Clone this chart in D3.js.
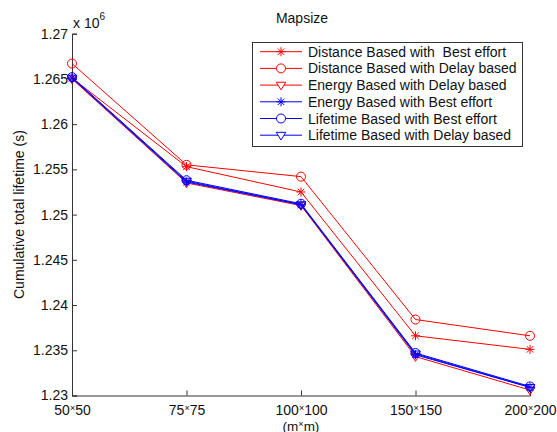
<!DOCTYPE html>
<html lang="en">
<head>
    <meta charset="UTF-8">
    <title>Mapsize</title>
    <script src="https://d3js.org/d3.v7.min.js"></script>
    <style>
        body { margin: 0; padding: 0; background: #fff; }
        svg { display: block; font-family: "Liberation Sans", Arial, sans-serif; }
        .legend text { white-space: pre; }
    </style>
</head>
<body>
    <svg id="chart" width="557" height="432"></svg>
    <script>
        // categories along x (split into parts so the "×" can be drawn small)
        const mapSizes = [["50", "50"], ["75", "75"], ["100", "100"], ["150", "150"], ["200", "200"]];
        const categories = mapSizes.map(d => d.join("×"));

        const yTicks = [1.23, 1.235, 1.24, 1.245, 1.25, 1.255, 1.26, 1.265, 1.27];
        const yTickLabels = ["1.23", "1.235", "1.24", "1.245", "1.25", "1.255", "1.26", "1.265", "1.27"];

        // values in units of 10^6 s
        const distBest   = [1.2651, 1.2553, 1.2525, 1.2366, 1.2351];
        const distDelay  = [1.2667, 1.2555, 1.2542, 1.2384, 1.2366];
        const energyDelay = [1.2650, 1.2535, 1.2510, 1.2343, 1.2306];
        const energyBest = [1.2651, 1.2536, 1.2511, 1.2345, 1.2309];
        const lifeBest   = [1.2652, 1.2538, 1.2512, 1.2347, 1.2310];
        const lifeDelay  = [1.2651, 1.2537, 1.2511, 1.2346, 1.2309];

        const seriesNames = [
            "Distance Based with  Best effort",
            "Distance Based with Delay based",
            "Energy Based with Delay based",
            "Energy Based with Best effort",
            "Lifetime Based with Best effort",
            "Lifetime Based with Delay based"
        ];
        const seriesValues = [distBest, distDelay, energyDelay, energyBest, lifeBest, lifeDelay];
        const seriesColors = ["#ff0000", "#ff0000", "#ff0000", "#0000ff", "#0000ff", "#0000ff"];
        const seriesMarkers = ["star", "circle", "tri", "star", "circle", "tri"];

        const svg = d3.select("#chart");
        const plotLeft = 72, plotRight = 530, plotTop = 33.7, plotBottom = 395.5;

        const x = d3.scalePoint().domain(categories).range([plotLeft, plotRight]);
        const y = d3.scaleLinear().domain([1.23, 1.27]).range([plotBottom, plotTop]);

        // axes (MATLAB style: ticks inward, no box)
        const yAxis = svg.append("g")
            .attr("transform", `translate(${plotLeft},0)`)
            .call(d3.axisLeft(y).tickValues(yTicks).tickSize(-5).tickPadding(4)
                .tickFormat((d, i) => yTickLabels[i]));
        const xAxis = svg.append("g")
            .attr("transform", `translate(0,${plotBottom})`)
            .call(d3.axisBottom(x).tickSize(-5).tickPadding(6).tickFormat(""));

        [yAxis, xAxis].forEach(a => {
            a.select(".domain").attr("stroke", "#333").attr("stroke-width", 1);
            a.selectAll(".tick line").attr("stroke", "#333");
        });
        yAxis.selectAll(".tick text").attr("font-size", 14).attr("fill", "#111");

        // x tick labels with small raised "×"
        xAxis.selectAll(".tick").each(function (d, i) {
            const t = d3.select(this).append("text")
                .attr("y", 19.5).attr("fill", "#111").attr("font-size", 14)
                .attr("text-anchor", "middle");
            t.append("tspan").text(mapSizes[i][0]);
            t.append("tspan").attr("font-size", 9).attr("dy", -4).text("×");
            t.append("tspan").attr("dy", 4).text(mapSizes[i][1]);
        });

        // x label
        const xl = svg.append("text")
            .attr("x", (plotLeft + plotRight) / 2).attr("y", 430.5)
            .attr("text-anchor", "middle").attr("font-size", 13.5).attr("fill", "#111");
        xl.append("tspan").text("(m");
        xl.append("tspan").attr("font-size", 9).attr("dy", -4).text("×");
        xl.append("tspan").attr("dy", 4).text("m)");

        // y label
        svg.append("text")
            .attr("transform", `translate(24,${(plotTop + plotBottom) / 2}) rotate(-90)`)
            .attr("text-anchor", "middle").attr("font-size", 14).attr("fill", "#111")
            .text("Cumulative total lifetime (s)");

        // exponent
        const ex = svg.append("text").attr("x", 73).attr("y", 28)
            .attr("font-size", 14).attr("fill", "#111");
        ex.append("tspan").text("x 10");
        ex.append("tspan").attr("font-size", 10).attr("dy", -8).text("6");

        // title
        svg.append("text").attr("x", 302).attr("y", 23)
            .attr("text-anchor", "middle").attr("font-size", 14).attr("fill", "#111")
            .text("Mapsize");

        // marker paths
        function markerPath(type) {
            if (type === "star") {
                const r = 4.5, q = r * 0.72;
                return `M0,${-r}V${r}M${-r},0H${r}M${-q},${-q}L${q},${q}M${-q},${q}L${q},${-q}`;
            }
            if (type === "circle") {
                const r = 4.5;
                return `M${r},0A${r},${r} 0 1,1 ${-r},0A${r},${r} 0 1,1 ${r},0Z`;
            }
            const s = 4.8;
            return `M${-s},${-s * 0.6}H${s}L0,${s}Z`;
        }

        const line = d3.line().x((d, i) => x(categories[i])).y(d => y(d));

        seriesValues.forEach((vals, k) => {
            const g = svg.append("g");
            g.append("path").datum(vals)
                .attr("d", line).attr("fill", "none")
                .attr("stroke", seriesColors[k]).attr("stroke-width", 1);
            g.selectAll(".m").data(vals).enter().append("path")
                .attr("transform", (d, i) => `translate(${x(categories[i])},${y(d)})`)
                .attr("d", markerPath(seriesMarkers[k]))
                .attr("fill", "none").attr("stroke", seriesColors[k]).attr("stroke-width", 1);
        });

        // legend
        const lg = svg.append("g").attr("class", "legend");
        lg.append("rect").attr("x", 252.5).attr("y", 42.5).attr("width", 270).attr("height", 104)
            .attr("fill", "#fff").attr("stroke", "#333");
        const rows = lg.selectAll(".row").data(seriesNames).enter().append("g")
            .attr("transform", (d, i) => `translate(0,${51.7 + i * 16.7})`);
        rows.append("line").attr("x1", 260).attr("x2", 302).attr("y1", 0).attr("y2", 0)
            .attr("stroke", (d, i) => seriesColors[i]);
        rows.append("path").attr("transform", "translate(281,0)")
            .attr("d", (d, i) => markerPath(seriesMarkers[i]))
            .attr("fill", "#fff").attr("stroke", (d, i) => seriesColors[i]);
        rows.append("text").attr("x", 308).attr("y", 5).attr("font-size", 14).attr("fill", "#111")
            .text(d => d);
    </script>
</body>
</html>
